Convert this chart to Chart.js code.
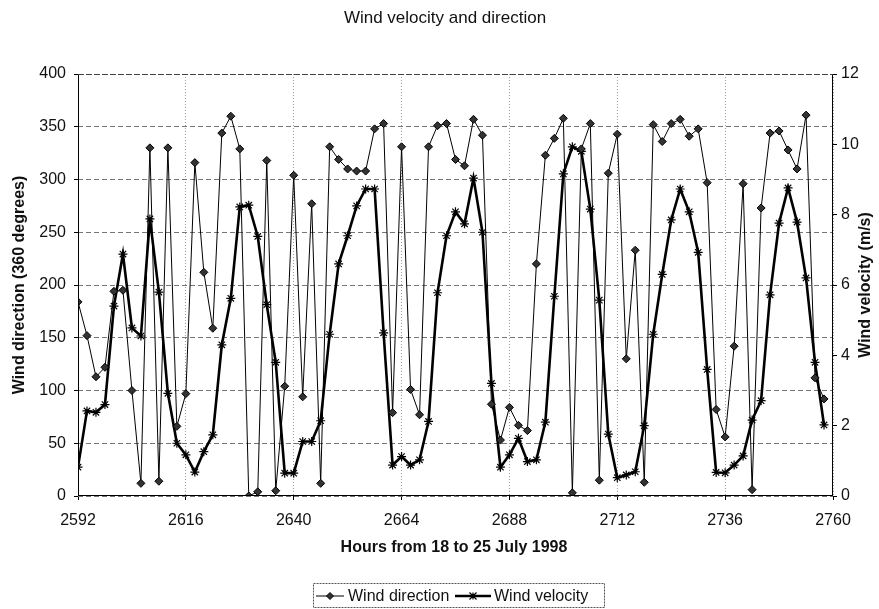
<!DOCTYPE html>
<html><head><meta charset="utf-8">
<script src="https://cdn.jsdelivr.net/npm/chart.js@4/dist/chart.umd.min.js"></script>
<style>html,body{margin:0;padding:0;background:#fff}</style>
</head><body>
<canvas id="c" width="879" height="609" style="display:block;width:879px;height:609px"></canvas>
<script>
const hours = [2592,2594,2596,2598,2600,2602,2604,2606,2608,2610,2612,2614,2616,2618,2620,2622,2624,2626,2628,2630,
2632,2634,2636,2638,2640,2642,2644,2646,2648,2650,2652,2654,2656,2658,2660,2662,2664,2666,2668,2670,
2672,2674,2676,2678,2680,2682,2684,2686,2688,2690,2692,2694,2696,2698,2700,2702,2704,2706,2708,2710,
2712,2714,2716,2718,2720,2722,2724,2726,2728,2730,2732,2734,2736,2738,2740,2742,2744,2746,2748,2750,
2752,2754,2756,2758];
const windDirection = [184,152,113,122,194,195,100,12,330,14,330,66,97,316,212,159,344,360,329,0,
4,318,5,104,304,94,277,12,331,319,310,308,308,348,353,79,331,101,77,331,
351,353,319,313,357,342,87,53,84,67,62,220,323,339,358,3,329,353,15,306,
343,130,233,13,352,336,353,357,341,348,297,82,56,142,296,6,273,344,346,328,
310,361,112,92];
const windVelocity = [0.82,2.42,2.38,2.6,5.4,6.88,4.78,4.55,7.88,5.8,2.92,1.5,1.17,0.68,1.26,1.74,4.3,5.62,8.22,8.27,
7.38,5.44,3.8,0.65,0.65,1.55,1.55,2.14,4.6,6.6,7.4,8.25,8.73,8.73,4.64,0.88,1.12,0.88,1.03,2.12,
5.78,7.4,8.08,7.74,9.04,7.5,3.2,0.82,1.17,1.64,0.98,1.03,2.1,5.68,9.16,9.93,9.8,8.16,5.57,1.76,
0.52,0.6,0.69,2.0,4.6,6.3,7.85,8.73,8.08,6.93,3.6,0.67,0.66,0.88,1.14,2.16,2.71,5.72,7.76,8.76,
7.79,6.2,3.8,2.02];
const xTicks = [2592,2616,2640,2664,2688,2712,2736,2760];
const dirTicks = [0,50,100,150,200,250,300,350,400];
const velTicks = [0,2,4,6,8,10,12];
const chartTitle = 'Wind velocity and direction';
const xTitle = 'Hours from 18 to 25 July 1998';
const yTitle = 'Wind direction (360 degrees)';
const y1Title = 'Wind velocity (m/s)';
const seriesNames = ['Wind direction','Wind velocity'];

const FONT = '"Liberation Sans", Arial, sans-serif';

function diamond(ctx,x,y,r){ctx.beginPath();ctx.moveTo(x,y-r);ctx.lineTo(x+r,y);ctx.lineTo(x,y+r);ctx.lineTo(x-r,y);ctx.closePath();ctx.fillStyle='#333';ctx.fill();ctx.strokeStyle='#000';ctx.lineWidth=1;ctx.stroke();}
function star(ctx,x,y,r){ctx.beginPath();ctx.moveTo(x-r,y-r);ctx.lineTo(x+r,y+r);ctx.moveTo(x-r,y+r);ctx.lineTo(x+r,y-r);ctx.moveTo(x,y-r);ctx.lineTo(x,y+r);ctx.moveTo(x-r,y);ctx.lineTo(x+r,y);ctx.strokeStyle='#000';ctx.lineWidth=1.2;ctx.stroke();}

const decor = {
  id:'decor',
  afterDraw(chart){
    const ctx = chart.ctx, a = chart.chartArea;
    ctx.save();
    ctx.strokeStyle='#000'; ctx.lineWidth=1; ctx.setLineDash([]);
    ctx.beginPath();
    ctx.moveTo(Math.round(a.left)+0.5, a.top); ctx.lineTo(Math.round(a.left)+0.5, a.bottom);
    ctx.moveTo(a.left, Math.round(a.bottom)-0.5); ctx.lineTo(a.right, Math.round(a.bottom)-0.5);
    ctx.moveTo(Math.round(a.right)-0.5, a.top); ctx.lineTo(Math.round(a.right)-0.5, a.bottom);
    ctx.stroke();
    ctx.strokeStyle='#444'; ctx.setLineDash([6,2]);
    ctx.beginPath(); ctx.moveTo(a.left, Math.round(a.top)+0.5); ctx.lineTo(a.right, Math.round(a.top)+0.5); ctx.stroke();
    ctx.setLineDash([]);
    ctx.fillStyle='#111'; ctx.textAlign='center'; ctx.textBaseline='middle';
    ctx.font='17px '+FONT;
    ctx.fillText(chartTitle, 445, 18);
    ctx.font='bold 16px '+FONT;
    ctx.fillText(xTitle, 454, 548);
    ctx.save(); ctx.translate(20, 285); ctx.rotate(-Math.PI/2); ctx.fillText(yTitle,0,0); ctx.restore();
    ctx.save(); ctx.translate(866, 285); ctx.rotate(-Math.PI/2); ctx.fillText(y1Title,0,0); ctx.restore();
    ctx.strokeStyle='#555'; ctx.lineWidth=1; ctx.setLineDash([2,1]);
    ctx.strokeRect(313.5, 583.5, 291, 24);
    ctx.setLineDash([]);
    const ly = 596;
    ctx.strokeStyle='#000'; ctx.lineWidth=1;
    ctx.beginPath(); ctx.moveTo(316, ly); ctx.lineTo(344, ly); ctx.stroke();
    diamond(ctx, 330, ly, 3.5);
    ctx.lineWidth=2.5; ctx.strokeStyle='#000';
    ctx.beginPath(); ctx.moveTo(455, ly); ctx.lineTo(491, ly); ctx.stroke();
    star(ctx, 473, ly, 3.5);
    ctx.fillStyle='#111'; ctx.textAlign='left'; ctx.font='16px '+FONT;
    ctx.fillText(seriesNames[0], 348, ly+1);
    ctx.fillText(seriesNames[1], 494, ly+1);
    ctx.restore();
  }
};

new Chart(document.getElementById('c'), {
  type:'line',
  data:{
    datasets:[
      {label:seriesNames[0], yAxisID:'y', data:hours.map((h,i)=>({x:h,y:windDirection[i]})),
       borderColor:'#000', borderWidth:1, pointStyle:'rectRot', pointRadius:4, pointBackgroundColor:'#333',
       pointBorderColor:'#000', pointBorderWidth:1, tension:0, fill:false},
      {label:seriesNames[1], yAxisID:'y1', data:hours.map((h,i)=>({x:h,y:windVelocity[i]})),
       borderColor:'#000', borderWidth:2.6, pointStyle:'star', pointRadius:4.5, pointBackgroundColor:'#000',
       pointBorderColor:'#000', pointBorderWidth:1.2, tension:0, fill:false}
    ]
  },
  options:{
    responsive:false, animation:false, devicePixelRatio:1,
    layout:{padding:{top:74,left:0,right:0,bottom:0}},
    plugins:{legend:{display:false}, title:{display:false}, tooltip:{enabled:false}},
    scales:{
      x:{type:'linear', min:2592, max:2760,
         afterBuildTicks:s=>{s.ticks = xTicks.map(v=>({value:v}));},
         afterFit:s=>{s.height=113;},
         ticks:{callback:v=>String(v), color:'#111', font:{family:FONT,size:16}, padding:11, maxRotation:0, autoSkip:false},
         grid:{color:'#9a9a9a', lineWidth:1, tickLength:4, tickColor:'#000', drawTicks:true},
         border:{display:false, dash:[1,2]}},
      y:{type:'linear', position:'left', min:0, max:400,
         afterBuildTicks:s=>{s.ticks = dirTicks.map(v=>({value:v}));},
         afterFit:s=>{s.width=78;},
         ticks:{callback:v=>String(v), color:'#111', font:{family:FONT,size:16}, padding:8},
         grid:{color:'#777', lineWidth:1, tickLength:4, tickColor:'#000'},
         border:{display:false, dash:[5,3]}},
      y1:{type:'linear', position:'right', min:0, max:12,
         afterBuildTicks:s=>{s.ticks = velTicks.map(v=>({value:v}));},
         afterFit:s=>{s.width=46;},
         ticks:{callback:v=>String(v), color:'#111', font:{family:FONT,size:16}, padding:4},
         grid:{drawOnChartArea:false, tickLength:4, tickColor:'#000'},
         border:{display:false}}
    }
  },
  plugins:[decor]
});
</script>
</body></html>
